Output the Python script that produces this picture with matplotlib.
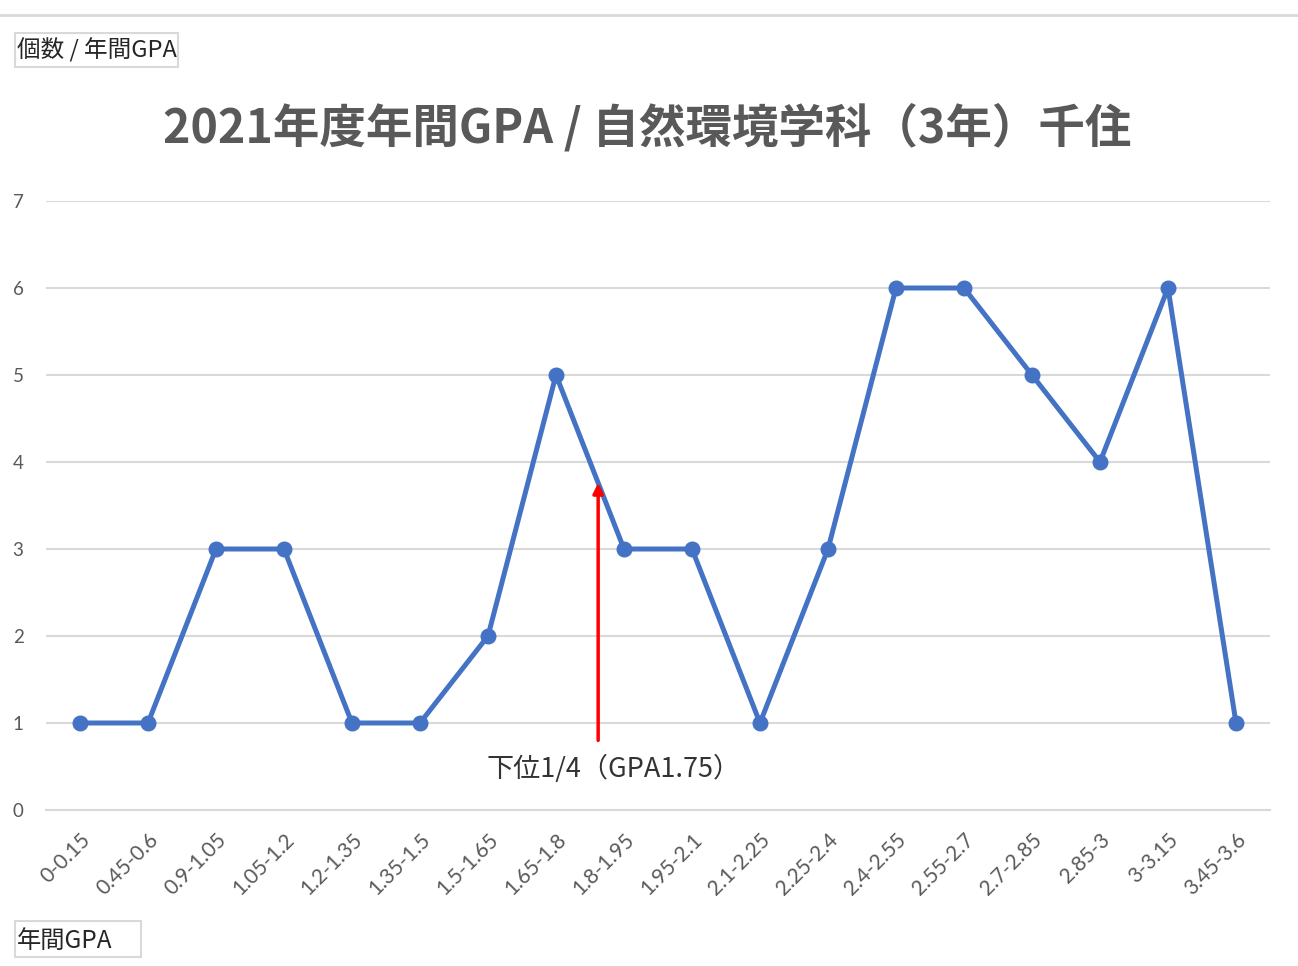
import matplotlib
matplotlib.use("Agg")
import matplotlib.pyplot as plt
from matplotlib.patches import Rectangle
from matplotlib.lines import Line2D

categories = ["0-0.15", "0.45-0.6", "0.9-1.05", "1.05-1.2", "1.2-1.35", "1.35-1.5",
              "1.5-1.65", "1.65-1.8", "1.8-1.95", "1.95-2.1", "2.1-2.25", "2.25-2.4",
              "2.4-2.55", "2.55-2.7", "2.7-2.85", "2.85-3", "3-3.15", "3.45-3.6"]
counts = [1, 1, 3, 3, 1, 1, 2, 5, 3, 3, 1, 3, 6, 6, 5, 4, 6, 1]
yticks = [0, 1, 2, 3, 4, 5, 6, 7]
title = "2021年度年間GPA / 自然環境学科（3年）千住"
ylabel_text = "個数 / 年間GPA"
xlabel_text = "年間GPA"
annot_text = "下位1/4（GPA1.75）"
arrow_x = 7.62
arrow_y_from = 0.80
arrow_y_to = 3.76
annot_y = 0.47

JP = ["Noto Sans CJK JP", "DejaVu Sans"]
LAT = ["Lato", "Noto Sans CJK JP", "DejaVu Sans"]
W, H = 1298, 966
fig = plt.figure(figsize=(W / 100, H / 100), dpi=100)
fig.patch.set_facecolor("white")

ax = fig.add_axes([46 / W, (H - 810) / H, 1224 / W, 609 / H])
x = list(range(len(categories)))
ax.plot(x, counts, color="#4472C4", lw=3.6, marker="o", markersize=10.5,
        markerfacecolor="#4472C4", markeredgecolor="#4472C4", zorder=3, clip_on=False)
ax.set_xlim(-0.5, len(categories) - 0.5)
ax.set_ylim(0, 7)
ax.set_yticks(yticks)
ax.set_yticklabels([str(v) for v in yticks], family=LAT, fontsize=13.5, color="#595959")
ax.yaxis.grid(True, color="#D9D9D9", lw=1.5)
ax.set_axisbelow(True)
for s in ax.spines.values():
    s.set_visible(False)
ax.tick_params(axis="y", length=0, pad=24)
ax.tick_params(axis="x", length=0, pad=14)
for lbl in ax.get_yticklabels():
    lbl.set_horizontalalignment("left")
ax.set_xticks(x)
ax.set_xticklabels(categories, rotation=45, ha="right", va="top",
                   rotation_mode="anchor", family=LAT, fontsize=15, color="#595959")
ax.axhline(0, color="#D9D9D9", lw=1.5, zorder=1, clip_on=False)

# annotation arrow
ax.annotate("", xy=(arrow_x, arrow_y_to), xytext=(arrow_x, arrow_y_from),
            arrowprops=dict(arrowstyle="-|>,head_length=0.6,head_width=0.3",
                            color="#FF0000", lw=2.5, shrinkA=0, shrinkB=0), zorder=4)
ax.text(arrow_x + 0.23, annot_y, annot_text, ha="center", va="center",
        family=JP, fontsize=19.5, color="#333333")

# title
fig.text(647 / W, (H - 128) / H, title, ha="center", va="center",
         family=JP, fontsize=33.5, fontweight="bold", color="#595959")

# top separator line
fig.add_artist(Line2D([0, 1], [(H - 15) / H, (H - 15) / H], color="#D9D9D9", lw=2))

# axis title boxes
fig.add_artist(Rectangle((15 / W, (H - 67) / H), 163 / W, 34 / H,
                         facecolor="white", edgecolor="#D9D9D9", lw=1.5))
fig.text(17 / W, (H - 50) / H, ylabel_text, ha="left", va="center",
         family=JP, fontsize=17, color="#262626")
fig.add_artist(Rectangle((15 / W, (H - 957) / H), 126 / W, 36 / H,
                         facecolor="white", edgecolor="#D9D9D9", lw=1.5))
fig.text(17 / W, (H - 941) / H, xlabel_text, ha="left", va="center",
         family=JP, fontsize=17.5, color="#262626")

fig.savefig("out.png", dpi=100, facecolor="white")
